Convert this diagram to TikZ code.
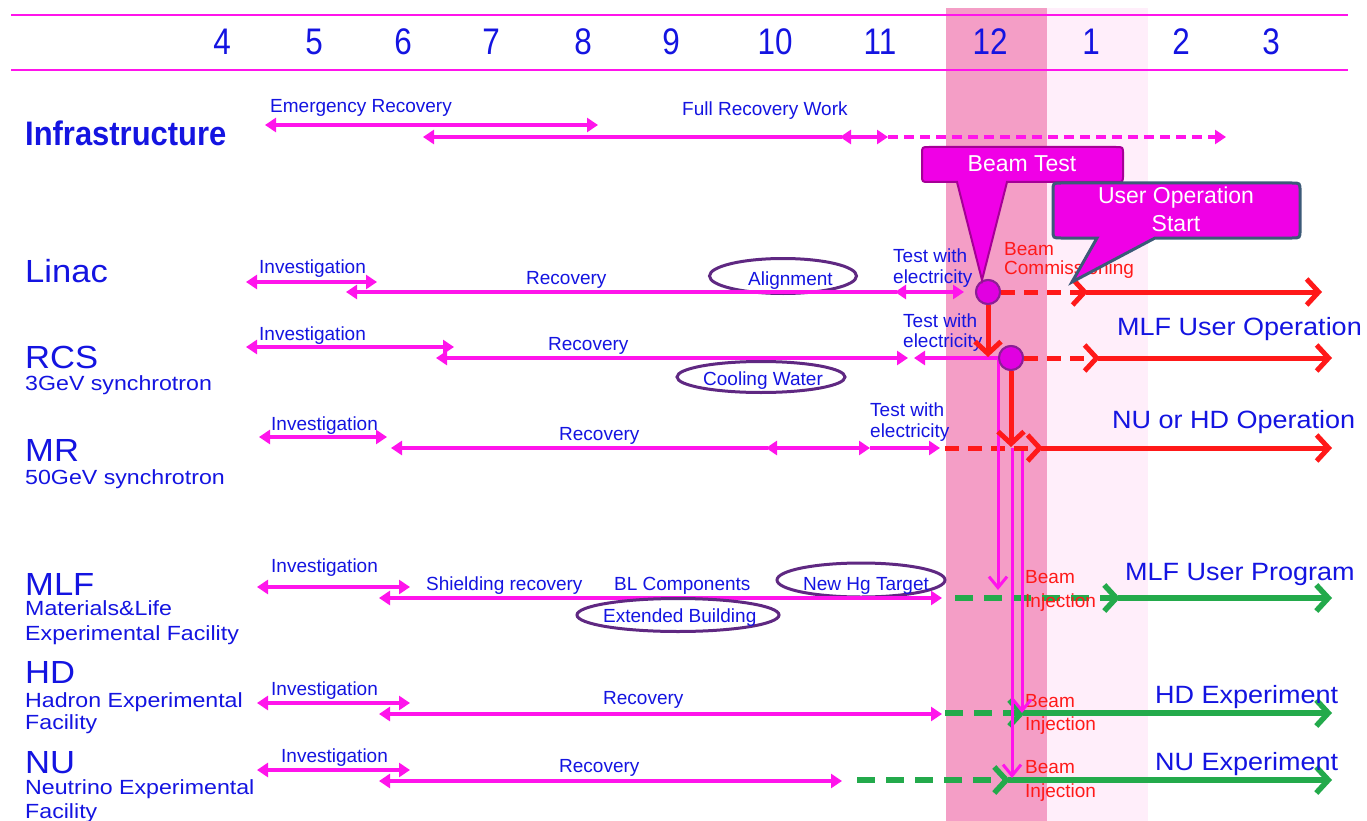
\documentclass[tikz,border=0pt]{standalone}
\usepackage{fontspec}
\setmainfont{Liberation Sans}
\usetikzlibrary{arrows.meta,shapes.geometric}
\definecolor{mag}{RGB}{255,20,235}
\definecolor{tblue}{RGB}{20,20,225}
\definecolor{tred}{RGB}{255,25,25}
\definecolor{tgreen}{RGB}{35,170,75}
\definecolor{epurple}{RGB}{95,40,130}
\definecolor{band}{RGB}{244,158,198}
\definecolor{lband}{RGB}{255,238,250}
\definecolor{calmag}{RGB}{240,0,230}
\definecolor{btborder}{RGB}{165,0,150}
\definecolor{uoborder}{RGB}{60,90,120}
\definecolor{circfill}{RGB}{225,0,225}
\definecolor{circborder}{RGB}{140,30,150}
\tikzset{
  mt/.tip={Triangle[length=11pt,width=14pt]},
  ch/.tip={Straight Barb[length=12pt,width=26pt]},
  vch/.tip={Straight Barb[length=11pt,width=18pt]},
  marr/.style={draw=mag, line width=3.3pt},
  mdash/.style={marr, dash pattern=on 10pt off 6pt},
  mvert/.style={draw=mag, line width=3pt},
  rline/.style={draw=tred, line width=5pt},
  rdash/.style={rline, dash pattern=on 14pt off 9pt},
  gline/.style={draw=tgreen, line width=5.5pt},
  gdash/.style={gline, dash pattern=on 18pt off 11pt},
  lbl/.style={inner sep=0pt, anchor=base west, text=tblue, font=\fontsize{19}{20}\selectfont},
  rlbl/.style={inner sep=0pt, anchor=base west, text=tred, font=\fontsize{19}{20}\selectfont},
  big/.style={inner sep=0pt, anchor=base west, text=tblue, font=\fontsize{32}{32}\selectfont, xscale=1.08},
  sub/.style={inner sep=0pt, anchor=base west, text=tblue, font=\fontsize{20.5}{21}\selectfont, xscale=1.13},
  rt/.style={inner sep=0pt, anchor=base west, text=tblue, font=\fontsize{25}{25}\selectfont, xscale=1.08},
  month/.style={inner sep=0pt, anchor=base, text=tblue, font=\fontsize{37}{37}\selectfont, xscale=0.85},
  oval/.style={ellipse, draw=epurple, line width=3pt, inner sep=0pt},
  dot/.style={circle, fill=circfill, draw=circborder, line width=2pt, minimum size=24pt, inner sep=0pt},
  calltext/.style={inner sep=0pt, anchor=base, text=white, font=\fontsize{23}{27}\selectfont},
}
\begin{document}
\begin{tikzpicture}[x=1pt,y=-1pt]
\useasboundingbox (0,0) rectangle (1367,821);
\fill[white] (0,0) rectangle (1367,821);
% bands
\fill[lband] (1047,8) rectangle (1148,821);
\fill[band] (946,8) rectangle (1047,821);
% header
\coordinate (hl1) at (11,15); \coordinate (hr1) at (1348,15);
\coordinate (hl2) at (11,70); \coordinate (hr2) at (1348,70);
\draw[mag, line width=2pt] (hl1) -- (hr1);
\draw[mag, line width=2pt] (hl2) -- (hr2);
\foreach \x/\m in {222/4,314/5,403/6,491/7,583/8,671/9,775/10,880/11,990/12,1091/1,1181/2,1271/3}
  \node[month] (m\m) at (\x,55) {\m};

% left labels
\node[inner sep=0pt, anchor=base west, text=tblue, font=\fontsize{34}{34}\bfseries, xscale=0.91] (infra) at (25,146) {Infrastructure};
\node[big] (linac) at (25,282) {Linac};
\node[big] (rcs) at (25,368) {RCS};
\node[sub] (rcs2) at (25,390) {3GeV synchrotron};
\node[big] (mr) at (25,461) {MR};
\node[sub] (mr2) at (25,484) {50GeV synchrotron};
\node[big] (mlf) at (25,595) {MLF};
\node[sub] (mlf2) at (25,615) {Materials\&Life};
\node[sub] (mlf3) at (25,640) {Experimental Facility};
\node[big] (hd) at (25,683) {HD};
\node[sub] (hd2) at (25,707) {Hadron Experimental};
\node[sub] (hd3) at (25,729) {Facility};
\node[big] (nu) at (25,773) {NU};
\node[sub] (nu2) at (25,794) {Neutrino Experimental};
\node[sub] (nu3) at (25,818) {Facility};

% Infrastructure
\node[lbl] (t1) at (270,113) {Emergency Recovery};
\node[lbl] (t2) at (682,116) {Full Recovery Work};
\draw[marr, mt-mt] (265,125) -- (598,125);
\draw[marr, mt-] (423,137) -- (842,137);
\draw[marr, mt-mt] (840,137) -- (888,137);
\draw[mdash, -mt] (888,137) -- (1226,137);

% Linac
\node[lbl] at (259,273) {Investigation};
\draw[marr, mt-mt] (246,282) -- (377,282);
\node[lbl] at (526,284) {Recovery};
\node[oval, minimum width=147pt, minimum height=35pt] (align) at (783,276) {};
\node[lbl] at (748,285) {Alignment};
\draw[marr, mt-] (346,292) -- (897,292);
\draw[marr, mt-mt] (895,292) -- (964,292);
\node[lbl] at (893,262) {Test with};
\node[lbl] at (893,283) {electricity};
\node[rlbl] at (1004,255) {Beam};
\node[rlbl] at (1004,274) {Commissioning};
\node[dot] (c1) at (988,292) {};
\coordinate (l1) at (1088,292); \coordinate (l2) at (1322,292);
\draw[rdash, -ch] (c1.east) -- (l1);
\draw[rline, -ch] ([xshift=-2pt]l1) -- (l2);

% RCS
\node[lbl] at (259,340) {Investigation};
\draw[marr, mt-mt] (246,347) -- (454,347);
\node[lbl] at (548,350) {Recovery};
\draw[marr, mt-mt] (436,358) -- (908,358);
\draw[marr, mt-] (914,358) -- (998,358);
\node[oval, minimum width=168pt, minimum height=31pt] (cool) at (761,377) {};
\node[lbl] at (703,385) {Cooling Water};
\node[lbl] at (903,327) {Test with};
\node[lbl] at (903,347) {electricity};
\node[dot] (c2) at (1011,358) {};
\coordinate (r1) at (1100,358); \coordinate (r2) at (1332,358);
\draw[rdash, -ch] (c2.east) -- (r1);
\draw[rline, -ch] ([xshift=-2pt]r1) -- (r2);
\node[rt] at (1117,335) {MLF User Operation};

% MR
\node[lbl] at (271,430) {Investigation};
\draw[marr, mt-mt] (259,437) -- (387,437);
\node[lbl] at (559,440) {Recovery};
\draw[marr, mt-] (391,448) -- (768,448);
\draw[marr, mt-mt] (766,448) -- (870,448);
\draw[marr, -mt] (870,448) -- (940,448);
\node[lbl] at (870,416) {Test with};
\node[lbl] at (870,437) {electricity};
\coordinate (mr0) at (945,448); \coordinate (mr1) at (1043,448); \coordinate (mr2) at (1332,448);
\draw[rdash, -ch] (mr0) -- (mr1);
\draw[rline, -ch] ([xshift=-2pt]mr1) -- (mr2);
\node[rt] at (1112,428) {NU or HD Operation};

% MLF
\node[lbl] at (271,572) {Investigation};
\draw[marr, mt-mt] (257,587) -- (410,587);
\node[lbl] at (426,590) {Shielding recovery};
\node[lbl] at (614,590) {BL Components};
\node[oval, minimum width=168pt, minimum height=34pt] (hg) at (861,580) {};
\node[lbl] at (803,590) {New Hg Target};
\draw[marr, mt-mt] (379,598) -- (942,598);
\node[oval, minimum width=202pt, minimum height=33pt] (ext) at (678,615) {};
\node[lbl] at (603,622) {Extended Building};
\coordinate (f0) at (955,598); \coordinate (f1) at (1120,598); \coordinate (f2) at (1332,598);
\draw[gdash, -ch] (f0) -- (f1);
\draw[gline, -ch] ([xshift=-2pt]f1) -- (f2);
\node[rlbl] at (1025,583) {Beam};
\node[rlbl] at (1025,607) {Injection};
\node[rt] at (1125,580) {MLF User Program};

% HD
\node[lbl] at (271,695) {Investigation};
\draw[marr, mt-mt] (257,703) -- (410,703);
\node[lbl] at (603,704) {Recovery};
\draw[marr, mt-mt] (379,714) -- (942,714);
\coordinate (h0) at (945,713); \coordinate (h1) at (1025,713); \coordinate (h2) at (1332,713);
\draw[gdash, -ch] (h0) -- (h1);
\draw[gline, -ch] ([xshift=-2pt]h1) -- (h2);
\node[rlbl] at (1025,707) {Beam};
\node[rlbl] at (1025,730) {Injection};
\node[rt] at (1155,703) {HD Experiment};

% NU
\node[lbl] at (281,762) {Investigation};
\draw[marr, mt-mt] (257,770) -- (410,770);
\node[lbl] at (559,772) {Recovery};
\draw[marr, mt-mt] (379,781) -- (842,781);
\coordinate (n0) at (857,780); \coordinate (n1) at (1010,780); \coordinate (n2) at (1332,780);
\draw[gdash, -ch] (n0) -- (n1);
\draw[gline, -ch] ([xshift=-2pt]n1) -- (n2);
\node[rlbl] at (1025,773) {Beam};
\node[rlbl] at (1025,797) {Injection};
\node[rt] at (1155,770) {NU Experiment};

% magenta verticals
\coordinate (v1) at (998,359); \coordinate (v1e) at (998,590);
\coordinate (v2) at (1012,448); \coordinate (v2e) at (1012,778);
\coordinate (v3) at (1022,451); \coordinate (v3e) at (1022,713);
\draw[mvert, -vch] (v1) -- (v1e);
\draw[mvert, -vch] (v2) -- (v2e);
\draw[mvert, -vch] (v3) -- (v3e);

% red verticals
\draw[rline, -ch] (c1.south) -- (988,357);
\draw[rline, -ch] (c2.south) -- (1011,447);
\node[dot] at (c1) {};
\node[dot] at (c2) {};

% callouts
\draw[fill=calmag, draw=btborder, line width=2pt]
  (929,147) -- (1116,147) .. controls (1123,147) .. (1123,154) -- (1123,175)
  .. controls (1123,182) .. (1116,182) -- (1007,182) -- (982,280) -- (957,182)
  -- (929,182) .. controls (922,182) .. (922,175) -- (922,154)
  .. controls (922,147) .. (929,147) -- cycle;
\node[calltext] (bt) at (1022,172) {Beam Test};
\draw[fill=calmag, draw=uoborder, line width=3pt]
  (1061,183) -- (1292,183) .. controls (1300,183) .. (1300,191) -- (1300,230)
  .. controls (1300,238) .. (1292,238) -- (1155,238) -- (1072,282) -- (1097,238)
  -- (1061,238) .. controls (1053,238) .. (1053,230) -- (1053,191)
  .. controls (1053,183) .. (1061,183) -- cycle;
\node[calltext] (uo1) at (1176,204) {User Operation};
\node[calltext] (uo2) at (1176,231) {Start};
\end{tikzpicture}
\end{document}
